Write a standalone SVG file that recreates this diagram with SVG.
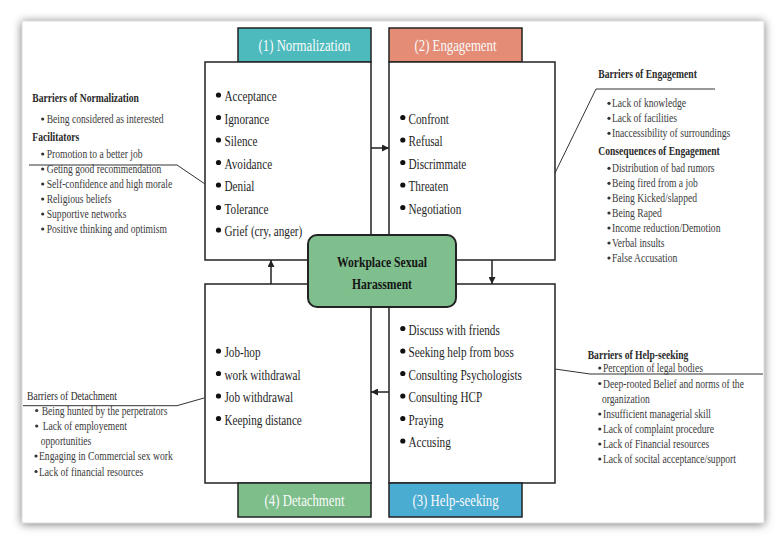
<svg xmlns="http://www.w3.org/2000/svg" width="783" height="544" viewBox="0 0 783 544">
<style>
.t{font-family:"Liberation Serif","Times New Roman",serif;}
.bx{font-size:14px;fill:#1e1e1e;}
.sd{font-size:12px;fill:#3a3a3a;}
.hd{font-size:12px;fill:#2a2a2a;font-weight:bold;}
.lb{font-size:16px;fill:#fafafa;text-anchor:middle;}
.ct{font-size:14.5px;fill:#151515;font-weight:bold;text-anchor:middle;}
.box{fill:#fff;stroke:#222;stroke-width:1.5;}
.lbl{stroke:#222;stroke-width:1.5;}
.con{fill:none;stroke:#222;stroke-width:1.5;}
.lead{fill:none;stroke:#333;stroke-width:1;}
.dot{fill:#111;}
.sdot{fill:#333;}
</style>
<defs>
<filter id="sh" x="-5%" y="-5%" width="110%" height="110%">
<feDropShadow dx="0" dy="1" stdDeviation="5" flood-color="#000" flood-opacity="0.55"/>
</filter>
<marker id="ah" viewBox="0 0 10 10" refX="10" refY="5" markerWidth="7" markerHeight="7" orient="auto" markerUnits="userSpaceOnUse">
<path d="M0,0 L10,5 L0,10 z" fill="#222"/>
</marker>
</defs>
<rect x="0" y="0" width="783" height="544" fill="#fff"/>
<rect x="22" y="21" width="742" height="502" fill="#fff" stroke="#bbb" stroke-width="0.5" filter="url(#sh)"/>

<g id="normalization">
<rect class="lbl" x="238" y="28" width="133" height="34" fill="#4DBBBD"/>
<text class="t lb" transform="translate(304.5 50.5) scale(.8 1)">(1) Normalization</text>
<rect class="box" x="205" y="62" width="166" height="198"/>
<g class="dot">
<circle cx="218.5" cy="95" r="2.6"/><circle cx="218.5" cy="117.5" r="2.6"/><circle cx="218.5" cy="140" r="2.6"/><circle cx="218.5" cy="162.5" r="2.6"/><circle cx="218.5" cy="185" r="2.6"/><circle cx="218.5" cy="207.5" r="2.6"/><circle cx="218.5" cy="230" r="2.6"/>
</g>
<text class="t bx" transform="translate(224.5 101) scale(.8 1)">Acceptance</text>
<text class="t bx" transform="translate(224.5 123.5) scale(.8 1)">Ignorance</text>
<text class="t bx" transform="translate(224.5 146) scale(.8 1)">Silence</text>
<text class="t bx" transform="translate(224.5 168.5) scale(.8 1)">Avoidance</text>
<text class="t bx" transform="translate(224.5 191) scale(.8 1)">Denial</text>
<text class="t bx" transform="translate(224.5 213.5) scale(.8 1)">Tolerance</text>
<text class="t bx" transform="translate(224.5 236) scale(.8 1)">Grief (cry, anger)</text>
</g>

<g id="engagement">
<rect class="lbl" x="389" y="28" width="133" height="34" fill="#E48C76"/>
<text class="t lb" transform="translate(455.5 50.5) scale(.8 1)">(2) Engagement</text>
<rect class="box" x="389" y="62" width="166" height="198"/>
<g class="dot">
<circle cx="402.8" cy="117.5" r="2.6"/><circle cx="402.8" cy="140" r="2.6"/><circle cx="402.8" cy="162.5" r="2.6"/><circle cx="402.8" cy="185" r="2.6"/><circle cx="402.8" cy="207.5" r="2.6"/>
</g>
<text class="t bx" transform="translate(408.5 123.5) scale(.8 1)">Confront</text>
<text class="t bx" transform="translate(408.5 146) scale(.8 1)">Refusal</text>
<text class="t bx" transform="translate(408.5 168.5) scale(.8 1)">Discrimmate</text>
<text class="t bx" transform="translate(408.5 191) scale(.8 1)">Threaten</text>
<text class="t bx" transform="translate(408.5 213.5) scale(.8 1)">Negotiation</text>
</g>

<g id="detachment">
<rect class="box" x="205" y="284" width="166" height="199"/>
<rect class="lbl" x="238" y="483" width="133" height="34" fill="#7DBE8B"/>
<text class="t lb" transform="translate(304.5 505.5) scale(.8 1)">(4) Detachment</text>
<g class="dot">
<circle cx="218.5" cy="351" r="2.6"/><circle cx="218.5" cy="373.5" r="2.6"/><circle cx="218.5" cy="396" r="2.6"/><circle cx="218.5" cy="418.5" r="2.6"/>
</g>
<text class="t bx" transform="translate(224.5 357) scale(.8 1)">Job-hop</text>
<text class="t bx" transform="translate(224.5 379.5) scale(.8 1)">work withdrawal</text>
<text class="t bx" transform="translate(224.5 402) scale(.8 1)">Job withdrawal</text>
<text class="t bx" transform="translate(224.5 424.5) scale(.8 1)">Keeping distance</text>
</g>

<g id="help-seeking">
<rect class="box" x="389" y="284" width="166" height="199"/>
<rect class="lbl" x="389" y="483" width="133" height="34" fill="#4AACD1"/>
<text class="t lb" transform="translate(455.5 505.5) scale(.8 1)">(3) Help-seeking</text>
<g class="dot">
<circle cx="402.8" cy="328.5" r="2.6"/><circle cx="402.8" cy="351" r="2.6"/><circle cx="402.8" cy="373.5" r="2.6"/><circle cx="402.8" cy="396" r="2.6"/><circle cx="402.8" cy="418.5" r="2.6"/><circle cx="402.8" cy="441" r="2.6"/>
</g>
<text class="t bx" transform="translate(408.5 334.5) scale(.8 1)">Discuss with friends</text>
<text class="t bx" transform="translate(408.5 357) scale(.8 1)">Seeking help from boss</text>
<text class="t bx" transform="translate(408.5 379.5) scale(.8 1)">Consulting Psychologists</text>
<text class="t bx" transform="translate(408.5 402) scale(.8 1)">Consulting HCP</text>
<text class="t bx" transform="translate(408.5 424.5) scale(.8 1)">Praying</text>
<text class="t bx" transform="translate(408.5 447) scale(.8 1)">Accusing</text>
</g>

<g id="center">
<rect x="308" y="235" width="148" height="72" rx="9" fill="#7FBF8E" stroke="#222" stroke-width="2"/>
<text class="t ct" transform="translate(382 266.5) scale(.8 1)">Workplace Sexual</text>
<text class="t ct" transform="translate(382 289) scale(.8 1)">Harassment</text>
</g>

<g id="connectors">
<path class="con" d="M371 148 H389" marker-end="url(#ah)"/>
<path class="con" d="M492 260 V284" marker-end="url(#ah)"/>
<path class="con" d="M389 392 H371" marker-end="url(#ah)"/>
<path class="con" d="M271 284 V260" marker-end="url(#ah)"/>
<path class="lead" d="M29 165 H177 L205 184"/>
<path class="lead" d="M555 173 L596 89 H715"/>
<path class="lead" d="M555 369 L590 374 H763"/>
<path class="lead" d="M23 405.7 H177 L204 398"/>
</g>

<g id="barriers-normalization">
<text class="t hd" transform="translate(32.3 102.3) scale(.8 1)">Barriers of Normalization</text>
<text class="t sd" transform="translate(46.7 123.3) scale(.8 1)">Being considered as interested</text>
<text class="t hd" transform="translate(32.3 141.3) scale(.8 1)">Facilitators</text>
<text class="t sd" transform="translate(46.7 158) scale(.8 1)">Promotion to a better job</text>
<text class="t sd" transform="translate(46.7 173) scale(.8 1)">Geting good recommendation</text>
<text class="t sd" transform="translate(46.7 188) scale(.8 1)">Self-confidence and high morale</text>
<text class="t sd" transform="translate(46.7 203) scale(.8 1)">Religious beliefs</text>
<text class="t sd" transform="translate(46.7 218) scale(.8 1)">Supportive networks</text>
<text class="t sd" transform="translate(46.7 233) scale(.8 1)">Positive thinking and optimism</text>
<g class="sdot">
<circle cx="42.7" cy="119" r="1.6"/><circle cx="42.7" cy="154" r="1.6"/><circle cx="42.7" cy="169" r="1.6"/><circle cx="42.7" cy="184" r="1.6"/><circle cx="42.7" cy="199" r="1.6"/><circle cx="42.7" cy="214" r="1.6"/><circle cx="42.7" cy="229" r="1.6"/>
</g>
</g>

<g id="barriers-engagement">
<text class="t hd" transform="translate(598.3 78) scale(.8 1)">Barriers of Engagement</text>
<text class="t sd" transform="translate(612 107.3) scale(.8 1)">Lack of knowledge</text>
<text class="t sd" transform="translate(612 122.3) scale(.8 1)">Lack of facilities</text>
<text class="t sd" transform="translate(612 137.3) scale(.8 1)">Inaccessibility of surroundings</text>
<text class="t hd" transform="translate(598.3 154.7) scale(.8 1)">Consequences of Engagement</text>
<text class="t sd" transform="translate(612 172.3) scale(.8 1)">Distribution of bad rumors</text>
<text class="t sd" transform="translate(612 187.3) scale(.8 1)">Being fired from a job</text>
<text class="t sd" transform="translate(612 202) scale(.8 1)">Being Kicked/slapped</text>
<text class="t sd" transform="translate(612 217) scale(.8 1)">Being Raped</text>
<text class="t sd" transform="translate(612 232) scale(.8 1)">Income reduction/Demotion</text>
<text class="t sd" transform="translate(612 247) scale(.8 1)">Verbal insults</text>
<text class="t sd" transform="translate(612 262) scale(.8 1)">False Accusation</text>
<g class="sdot">
<circle cx="609" cy="103.3" r="1.6"/><circle cx="609" cy="118.3" r="1.6"/><circle cx="609" cy="133.3" r="1.6"/><circle cx="609" cy="168.3" r="1.6"/><circle cx="609" cy="183.3" r="1.6"/><circle cx="609" cy="198" r="1.6"/><circle cx="609" cy="213" r="1.6"/><circle cx="609" cy="228" r="1.6"/><circle cx="609" cy="243" r="1.6"/><circle cx="609" cy="258" r="1.6"/>
</g>
</g>

<g id="barriers-help-seeking">
<text class="t hd" transform="translate(587.7 359) scale(.8 1)">Barriers of Help-seeking</text>
<text class="t sd" transform="translate(603 372) scale(.8 1)">Perception of legal bodies</text>
<text class="t sd" transform="translate(603 387.5) scale(.8 1)">Deep-rooted Belief and norms of the</text>
<text class="t sd" transform="translate(602 403) scale(.8 1)">organization</text>
<text class="t sd" transform="translate(603 418) scale(.8 1)">Insufficient managerial skill</text>
<text class="t sd" transform="translate(603 433) scale(.8 1)">Lack of complaint procedure</text>
<text class="t sd" transform="translate(603 448) scale(.8 1)">Lack of Financial resources</text>
<text class="t sd" transform="translate(603 463) scale(.8 1)">Lack of socital acceptance/support</text>
<g class="sdot">
<circle cx="599.8" cy="368" r="1.6"/><circle cx="599.8" cy="383.5" r="1.6"/><circle cx="599.8" cy="414" r="1.6"/><circle cx="599.8" cy="429" r="1.6"/><circle cx="599.8" cy="444" r="1.6"/><circle cx="599.8" cy="459" r="1.6"/>
</g>
</g>

<g id="barriers-detachment">
<text class="t sd" style="fill:#2a2a2a" transform="translate(27 399.7) scale(.8 1)">Barriers of Detachment</text>
<text class="t sd" transform="translate(41.7 414.5) scale(.8 1)">Being hunted by the perpetrators</text>
<text class="t sd" transform="translate(42.7 430) scale(.8 1)">Lack of employement</text>
<text class="t sd" transform="translate(40.7 445) scale(.8 1)">opportunities</text>
<text class="t sd" transform="translate(39 460) scale(.8 1)">Engaging in Commercial sex work</text>
<text class="t sd" transform="translate(39 475.5) scale(.8 1)">Lack of financial resources</text>
<g class="sdot">
<circle cx="36.7" cy="410.5" r="1.6"/><circle cx="36.7" cy="426" r="1.6"/><circle cx="36" cy="456" r="1.6"/><circle cx="36" cy="471.5" r="1.6"/>
</g>
</g>
</svg>
